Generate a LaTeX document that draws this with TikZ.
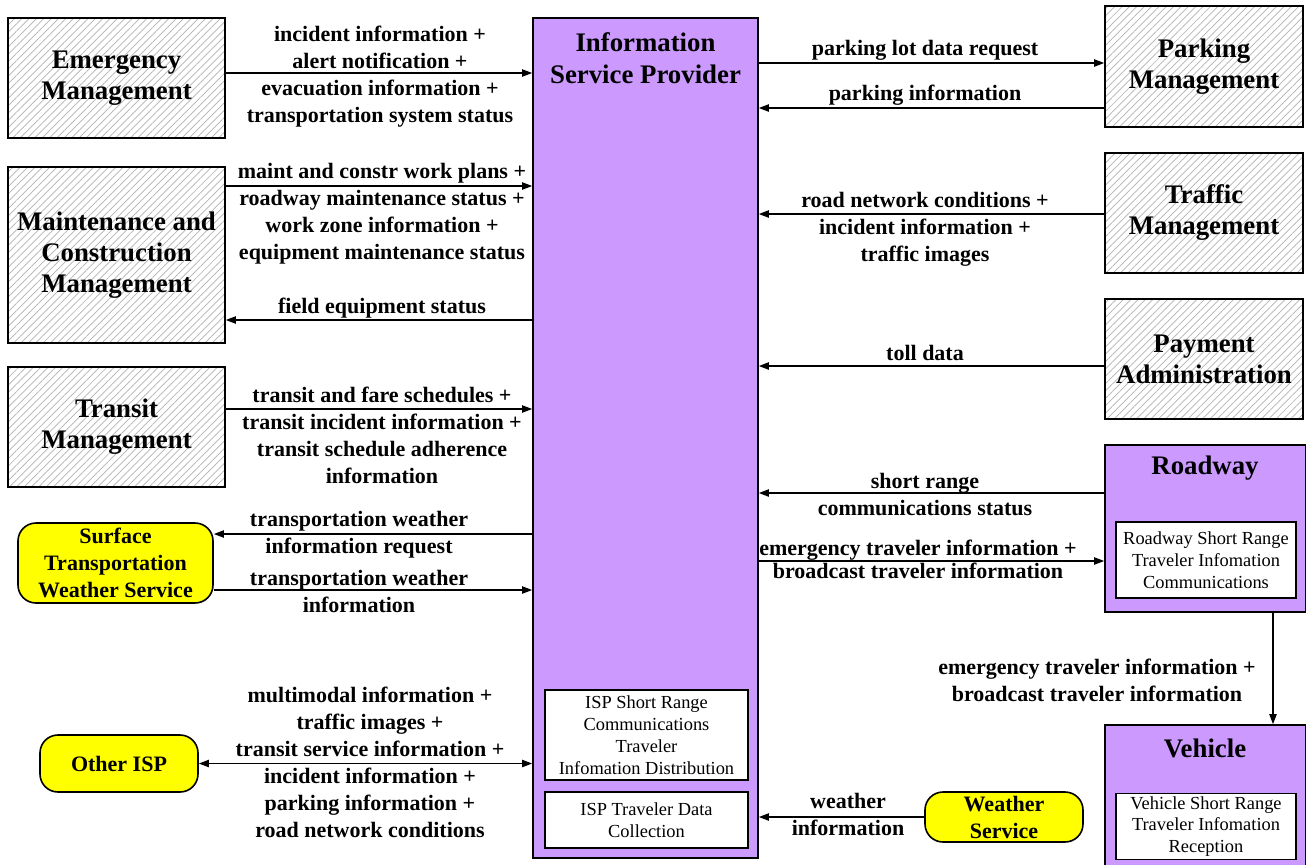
\documentclass[tikz,border=0pt]{standalone}
\usepackage{fontspec}
\setmainfont{Liberation Serif}
\usetikzlibrary{arrows.meta,patterns.meta}

\definecolor{ispviolet}{RGB}{204,153,255}
\definecolor{extyellow}{RGB}{255,255,0}

\tikzset{
  hatchbox/.style={draw, line width=0.8pt, fill=white, pattern={Lines[angle=45, distance=2.6pt, line width=0.35pt]}, pattern color=gray!60, align=center, font=\fontsize{13.4}{15.5}\selectfont\bfseries, inner sep=0pt},
  termbox/.style={draw, line width=0.8pt, fill=extyellow, rounded corners=9pt, align=center, font=\fontsize{11}{13.5}\selectfont\bfseries, inner sep=0pt},
  subsys/.style={draw, line width=0.8pt, fill=ispviolet, inner sep=0pt},
  innerbox/.style={draw, line width=0.8pt, fill=white, align=center, font=\fontsize{9.2}{11}\selectfont, inner sep=0pt},
  flowlbl/.style={align=center, font=\fontsize{11}{13.5}\selectfont\bfseries, inner sep=0pt},
  flow/.style={line width=0.7pt, -{Triangle[length=5pt, width=3.6pt]}},
  twoway/.style={line width=0.7pt, {Triangle[length=5pt, width=3.6pt]}-{Triangle[length=5pt, width=3.6pt]}}
}

\begin{document}
\begin{tikzpicture}[x=0.5pt, y=-0.5pt]
      \fill [white] (0,0) rectangle (1306,864);
      \useasboundingbox (0,0) rectangle (1306,864);
      % left side
      \node [hatchbox, minimum width=108.5pt, minimum height=60pt] (em) at (116.5,78) {Emergency\\Management};
      \node [hatchbox, minimum width=108.5pt, minimum height=88pt] (mc) at (116.5,255) {Maintenance and\\Construction\\Management};
      \node [hatchbox, minimum width=108.5pt, minimum height=60pt] (tm) at (116.5,427) {Transit\\Management};
      \node [termbox, minimum width=97.5pt, minimum height=40pt] (stws) at (115.5,563) {Surface\\Transportation\\Weather Service};
      \node [termbox, minimum width=79pt, minimum height=28.5pt] (oisp) at (119,763.5) {Other ISP};
      % information service provider
      \node [subsys, minimum width=112.5pt, minimum height=420pt] (isp) at (645.5,438) {};
      \node [flowlbl, font=\fontsize{13.4}{16}\selectfont\bfseries] (isptitle) at (645.5,58) {Information\\Service Provider};
      \node [innerbox, minimum width=101.5pt, minimum height=45pt] (ispsr) at (646.5,735) {ISP Short Range\\Communications\\Traveler\\Infomation Distribution};
      \node [innerbox, minimum width=101.5pt, minimum height=28pt] (ispdc) at (646.5,820) {ISP Traveler Data\\Collection};
      % right side
      \node [hatchbox, minimum width=99pt, minimum height=60.5pt] (pm) at (1204,66.5) {Parking\\Management};
      \node [hatchbox, minimum width=99pt, minimum height=60pt] (trm) at (1204,213) {Traffic\\Management};
      \node [hatchbox, minimum width=99pt, minimum height=60pt] (pa) at (1204,359) {Payment\\Administration};
      \node [subsys, minimum width=100.5pt, minimum height=83.5pt] (rw) at (1205.5,528.5) {};
      \node [flowlbl, font=\fontsize{13.4}{15.5}\selectfont\bfseries] (rwtitle) at (1205,468) {Roadway};
      \node [innerbox, minimum width=90pt, minimum height=38pt] (rwsr) at (1206,560) {Roadway Short Range\\Traveler Infomation\\Communications};
      \node [subsys, minimum width=100.5pt, minimum height=75pt] (vh) at (1205.5,800) {};
      \node [flowlbl, font=\fontsize{13.4}{15.5}\selectfont\bfseries] (vhtitle) at (1205,748) {Vehicle};
      \node [innerbox, minimum width=90pt, minimum height=33pt, font=\fontsize{9.2}{10.6}\selectfont] (vhsr) at (1206,826.5) {Vehicle Short Range\\Traveler Infomation\\Reception};
      \node [termbox, minimum width=79pt, minimum height=25pt] (ws) at (1004,817) {Weather\\Service};
      % flows on the left
      \draw [flow] (em.east |- 0,73) -- (isp.west |- 0,73);
      \node [flowlbl] (lem) at (380,77) {incident information +\\alert notification +\\evacuation information +\\transportation system status};
      \draw [flow] (mc.east |- 0,186) -- (isp.west |- 0,186);
      \node [flowlbl] (lmc) at (382,214) {maint and constr work plans +\\roadway maintenance status +\\work zone information +\\equipment maintenance status};
      \draw [flow] (isp.west |- 0,320) -- (mc.east |- 0,320);
      \node [flowlbl] (lfes) at (382,308) {field equipment status};
      \draw [flow] (tm.east |- 0,409) -- (isp.west |- 0,409);
      \node [flowlbl] (ltm) at (382,435.5) {transit and fare schedules +\\transit incident information +\\transit schedule adherence\\information};
      \draw [flow] (isp.west |- 0,534) -- (stws.east |- 0,534);
      \node [flowlbl] (lwreq) at (359,535) {transportation weather\\information request};
      \draw [flow] (stws.east |- 0,590) -- (isp.west |- 0,590);
      \node [flowlbl] (lwinfo) at (359,591) {transportation weather\\information};
      \draw [twoway] (oisp.east) -- (isp.west |- oisp.east);
      \node [flowlbl] (loisp) at (370,762.5) {multimodal information +\\traffic images +\\transit service information +\\incident information +\\parking information +\\road network conditions};
      % flows on the right
      \draw [flow] (isp.east |- 0,63) -- (pm.west |- 0,63);
      \node [flowlbl] (lpreq) at (925,50) {parking lot data request};
      \draw [flow] (pm.west |- 0,108) -- (isp.east |- 0,108);
      \node [flowlbl] (lpinfo) at (925,95) {parking information};
      \draw [flow] (trm.west |- 0,214) -- (isp.east |- 0,214);
      \node [flowlbl] (ltrm) at (925,229) {road network conditions +\\incident information +\\traffic images};
      \draw [flow] (pa.west |- 0,366) -- (isp.east |- 0,366);
      \node [flowlbl] (lpa) at (925,353) {toll data};
      \draw [flow] (rw.west |- 0,493) -- (isp.east |- 0,493);
      \node [flowlbl] (lsrcs) at (925,494.5) {short range\\communications status};
      \draw [flow] (isp.east |- 0,561) -- (rw.west |- 0,561);
      \node [flowlbl, font=\fontsize{11}{11.5}\selectfont\bfseries] (lrw) at (918,559.5) {emergency traveler information +\\broadcast traveler information};
      \draw [flow] (rw.south -| 1273,0) -- (vh.north -| 1273,0);
      \node [flowlbl] (lvh) at (1097,680.5) {emergency traveler information +\\broadcast traveler information};
      \draw [flow] (ws.west) -- (isp.east |- ws.west);
      \node [flowlbl] (lws) at (848,814) {weather\\information};
\end{tikzpicture}
\end{document}
